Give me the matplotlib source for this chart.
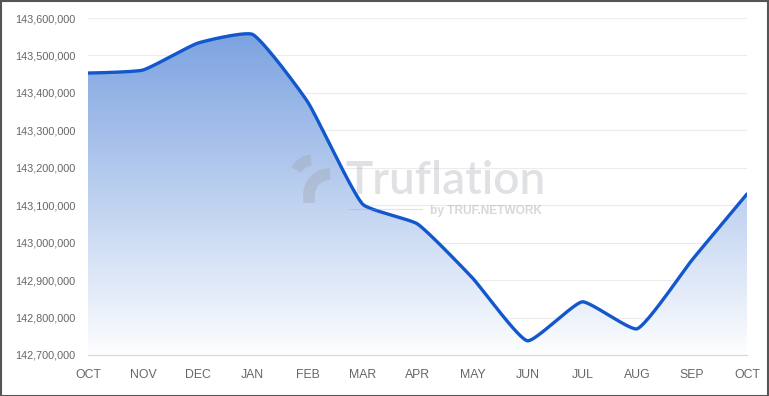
import numpy as np
import matplotlib
matplotlib.use("Agg")
import matplotlib.pyplot as plt
from matplotlib.patches import Polygon, Rectangle
from matplotlib.colors import LinearSegmentedColormap

months = ["OCT", "NOV", "DEC", "JAN", "FEB", "MAR", "APR", "MAY", "JUN", "JUL", "AUG", "SEP", "OCT"]
values = [143453000, 143461000, 143533000, 143556000, 143376000, 143103000, 143050000,
          142906000, 142738000, 142842000, 142770000, 142954000, 143130000]
yticks = [142700000 + i * 100000 for i in range(10)]

W, H = 769, 396
L, R, T, B = 88, 747, 18, 355
ymin, ymax = 142700000, 143600000

def spline(x, y, tension=0.15, n=40):
    # Chart.js-style bezier spline computed in pixel space
    x = np.asarray(x, float); y = np.asarray(y, float)
    px = L + x / (len(x) - 1) * (R - L)
    py = B - (y - ymin) / (ymax - ymin) * (B - T)
    P = np.column_stack([px, py])
    N = len(P)
    prev_cp = P.copy(); next_cp = P.copy()
    for i in range(1, N - 1):
        d01 = np.hypot(*(P[i] - P[i - 1])); d12 = np.hypot(*(P[i + 1] - P[i]))
        s01 = d01 / (d01 + d12); s12 = d12 / (d01 + d12)
        prev_cp[i] = P[i] - tension * s01 * (P[i + 1] - P[i - 1])
        next_cp[i] = P[i] + tension * s12 * (P[i + 1] - P[i - 1])
    out = []
    for i in range(N - 1):
        t = np.linspace(0, 1, n, endpoint=(i == N - 2))[:, None]
        p0, p1, p2, p3 = P[i], next_cp[i], prev_cp[i + 1], P[i + 1]
        out.append((1-t)**3*p0 + 3*(1-t)**2*t*p1 + 3*(1-t)*t**2*p2 + t**3*p3)
    Q = np.vstack(out)
    xs = (Q[:, 0] - L) / (R - L) * (len(x) - 1)
    ys = ymin + (B - Q[:, 1]) / (B - T) * (ymax - ymin)
    return xs, ys

plt.rcParams['font.family'] = ['Liberation Sans', 'DejaVu Sans']
fig = plt.figure(figsize=(W/100, H/100), dpi=100)
ax = fig.add_axes([L/W, 1 - B/H, (R-L)/W, (B-T)/H])

x = np.arange(len(values))
xs, ys = spline(x, values)
ax.set_xlim(0, len(values) - 1)
ax.set_ylim(ymin, ymax)

cmap = LinearSegmentedColormap.from_list("g", [(1, 1, 1, 1), (0.49, 0.64, 0.88, 1)])
grad = np.linspace(0, 1, 256).reshape(-1, 1)
top = max(values)
im = ax.imshow(grad, extent=[0, len(values) - 1, ymin, top], origin='lower', aspect='auto',
               cmap=cmap, vmin=-0.02, vmax=1.0, zorder=1)
poly = Polygon(np.column_stack([np.r_[xs, xs[-1], xs[0]], np.r_[ys, ymin, ymin]]),
               closed=True, transform=ax.transData, facecolor='none', edgecolor='none')
ax.add_patch(poly)
im.set_clip_path(poly)

ax.plot(xs, ys, color='#1258cc', lw=2.4, zorder=3, solid_capstyle='round', solid_joinstyle='round')

ax.set_yticks(yticks)
ax.set_yticklabels([f"{v:,}" for v in yticks])
ax.set_xticks(x)
ax.set_xticklabels(months)
ax.tick_params(axis='both', length=0, colors='#666666')
ax.tick_params(axis='y', pad=9, labelsize=7.8)
ax.tick_params(axis='x', pad=10, labelsize=8.8)
ax.grid(axis='y', color='#ececec', lw=0.8, zorder=0)
for s in ['top', 'right', 'left']:
    ax.spines[s].set_visible(False)
ax.spines['bottom'].set_color('#d6d6d6')
ax.set_axisbelow(True)

# watermark
wc = '#9a9ea6'
fig.text(345/W, 1 - 181/H, "Truflation", fontsize=33, color=wc, alpha=0.3, fontweight=600,
         va='center', ha='left', family=['Lato', 'DejaVu Sans'], zorder=5)
fig.text(430/W, 1 - 211/H, "by TRUF.NETWORK", fontsize=8.6, color=wc, alpha=0.4,
         fontweight='bold', va='center', ha='left', zorder=5)
fig.add_artist(plt.Line2D([349/W, 422/W], [1 - 209/H, 1 - 209/H], color=wc,
                          alpha=0.3, lw=0.8))
# logo (figure pixel coords)
pxt = fig.dpi_scale_trans
def arc(cx, cy, r, a1, a2):
    a = np.radians(np.linspace(a1, a2, 30))
    return (cx + r*np.cos(a)) / 100, (H - cy + r*np.sin(a)) / 100
ax1, ay1 = arc(313, 179, 19, 96, 152)
fig.add_artist(plt.Line2D(ax1, ay1, transform=pxt, color=wc, alpha=0.32, lw=8, solid_capstyle='butt'))
ax2, ay2 = arc(330, 195, 21, 180, 90)
sx = np.r_[309/100, ax2]; sy = np.r_[(H - 203)/100, ay2]
fig.add_artist(plt.Line2D(sx, sy, transform=pxt, color=wc, alpha=0.32, lw=8.5, solid_capstyle='butt'))

fig.add_artist(Rectangle((0.5/W, 0.5/H), 1 - 1.5/W, 1 - 1.5/H, transform=fig.transFigure,
                         fill=False, edgecolor='#555555', lw=1.5))

fig.savefig("out.png", dpi=100)
